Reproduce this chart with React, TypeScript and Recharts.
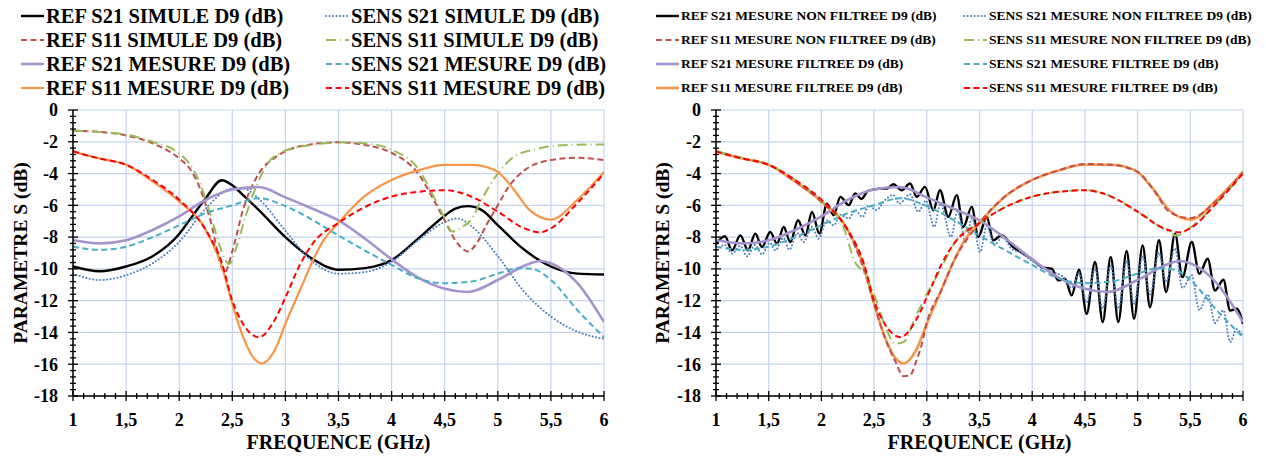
import React from "react";
import { LineChart, Line, XAxis, YAxis, CartesianGrid } from "recharts";

type Pt = [number, number];

const FONT = "'Liberation Serif', 'Times New Roman', serif";

// axes
const X_MAJOR = [1, 1.5, 2, 2.5, 3, 3.5, 4, 4.5, 5, 5.5, 6];
const Y_MAJOR = [0, -2, -4, -6, -8, -10, -12, -14, -16, -18];
const X_TICKS = Array.from({ length: 51 }, (_, i) => (10 + i) / 10);
const Y_TICKS = Array.from({ length: 46 }, (_, i) => -(i * 4) / 10);

// ---- left chart : simulated vs measured (GHz, dB)
const REF_S21_SIM: Pt[] = [[1, -9.85], [1.25, -10.15], [1.5, -9.85], [1.75, -9.2], [2, -7.8], [2.1, -6.9], [2.25, -5.55], [2.4, -4.42], [2.5, -4.73], [2.6, -5.35], [2.75, -6.3], [3, -8.0], [3.25, -9.35], [3.5, -10.05], [3.75, -9.95], [4, -9.45], [4.25, -8.1], [4.5, -6.65], [4.6, -6.2], [4.72, -6.05], [4.85, -6.3], [5, -7.25], [5.25, -8.8], [5.5, -9.85], [5.75, -10.3], [6, -10.35]];
const REF_S11_SIM: Pt[] = [[1, -1.3], [1.25, -1.38], [1.5, -1.6], [1.75, -2.1], [2, -3.05], [2.1, -3.7], [2.2, -5.0], [2.3, -7.1], [2.4, -9.9], [2.43, -10.2], [2.5, -8.9], [2.6, -6.3], [2.75, -4.0], [2.9, -3.0], [3, -2.6], [3.25, -2.15], [3.5, -2.03], [3.75, -2.2], [4, -2.7], [4.25, -4.0], [4.4, -5.7], [4.5, -6.95], [4.6, -8.2], [4.72, -8.9], [4.8, -8.4], [4.9, -7.15], [5, -6.0], [5.1, -4.85], [5.25, -3.8], [5.5, -3.15], [5.75, -3.0], [6, -3.15]];
const SENS_S21_SIM: Pt[] = [[1, -10.3], [1.25, -10.7], [1.5, -10.4], [1.75, -9.65], [2, -8.3], [2.25, -6.2], [2.5, -4.95], [2.6, -4.95], [2.75, -5.6], [3, -7.6], [3.25, -9.5], [3.5, -10.3], [3.75, -10.2], [4, -9.55], [4.25, -8.2], [4.5, -7.05], [4.62, -6.83], [4.75, -7.3], [5, -9.2], [5.25, -11.45], [5.5, -13.0], [5.75, -13.95], [6, -14.4]];
const SENS_S11_SIM: Pt[] = [[1, -1.3], [1.25, -1.38], [1.5, -1.55], [1.75, -2.0], [2, -2.73], [2.1, -3.4], [2.2, -4.7], [2.3, -6.7], [2.4, -8.9], [2.47, -9.7], [2.55, -8.4], [2.62, -6.8], [2.7, -5.25], [2.83, -3.4], [3, -2.55], [3.25, -2.2], [3.5, -2.03], [3.75, -2.1], [4, -2.5], [4.25, -3.7], [4.4, -5.5], [4.5, -6.8], [4.57, -7.65], [4.68, -7.3], [4.75, -6.9], [4.85, -5.6], [5, -4.0], [5.15, -2.95], [5.35, -2.48], [5.65, -2.2], [6, -2.17]];
const REF_S21_MES: Pt[] = [[1, -8.2], [1.05, -8.25], [1.25, -8.4], [1.5, -8.2], [1.75, -7.55], [2, -6.7], [2.25, -5.65], [2.5, -5.0], [2.75, -4.85], [3, -5.5], [3.25, -6.2], [3.5, -6.95], [3.75, -8.1], [4, -9.4], [4.25, -10.55], [4.5, -11.25], [4.72, -11.45], [5, -10.7], [5.25, -9.8], [5.4, -9.5], [5.5, -9.65], [5.75, -10.9], [6, -13.35]];
const REF_S11_MES: Pt[] = [[1, -2.6], [1.1, -2.8], [1.25, -3.05], [1.5, -3.45], [1.75, -4.5], [2, -5.75], [2.25, -7.55], [2.4, -9.8], [2.5, -12.2], [2.6, -14.25], [2.7, -15.6], [2.78, -15.95], [2.9, -15.1], [3, -13.45], [3.14, -11.3], [3.25, -9.6], [3.35, -8.3], [3.5, -7.1], [3.75, -5.4], [4, -4.4], [4.25, -3.8], [4.5, -3.45], [4.75, -3.45], [4.9, -3.6], [5, -3.9], [5.15, -5.0], [5.3, -6.3], [5.5, -6.9], [5.75, -5.65], [6, -3.9]];
const SENS_S21_MES: Pt[] = [[1, -8.6], [1.25, -8.8], [1.5, -8.6], [1.75, -8.0], [2, -7.25], [2.25, -6.5], [2.5, -6.0], [2.75, -5.55], [3, -6.05], [3.25, -6.9], [3.5, -7.9], [3.75, -8.85], [4, -9.75], [4.25, -10.6], [4.5, -10.9], [4.75, -10.8], [5, -10.3], [5.2, -9.95], [5.35, -10.05], [5.5, -10.7], [5.75, -12.6], [6, -14.3]];
const SENS_S11_MES: Pt[] = [[1, -2.6], [1.1, -2.8], [1.25, -3.05], [1.5, -3.45], [1.75, -4.4], [2, -5.65], [2.25, -7.55], [2.4, -9.6], [2.5, -12.0], [2.6, -13.45], [2.75, -14.3], [2.9, -13.2], [3, -11.8], [3.14, -9.7], [3.27, -8.3], [3.5, -7.1], [3.75, -6.1], [4, -5.45], [4.25, -5.15], [4.5, -5.05], [4.75, -5.45], [5, -6.4], [5.25, -7.45], [5.4, -7.7], [5.5, -7.45], [5.75, -5.85], [6, -4.0]];

// ---- right chart : raw (non filtered) measurements
const REF_S21_RAW: Pt[] = [[1, -8.45], [1.085, -7.95], [1.152, -8.83], [1.231, -7.89], [1.304, -8.83], [1.373, -7.78], [1.436, -8.62], [1.515, -7.68], [1.579, -8.41], [1.642, -7.36], [1.705, -8.31], [1.778, -6.94], [1.848, -7.89], [1.911, -6.41], [1.98, -7.78], [2.053, -5.89], [2.116, -6.62], [2.18, -5.47], [2.26, -5.99], [2.32, -5.25], [2.38, -5.6], [2.44, -5.1], [2.5, -5.0], [2.56, -4.95], [2.62, -4.95], [2.682, -4.67], [2.762, -5.05], [2.841, -4.63], [2.904, -5.47], [2.983, -4.84], [3.062, -6.31], [3.125, -5.05], [3.204, -6.73], [3.284, -5.36], [3.347, -7.36], [3.426, -6.1], [3.489, -7.99], [3.568, -6.73], [3.631, -8.2], [3.71, -7.88], [3.82, -8.62], [3.916, -9.04], [4.01, -9.46], [4.105, -9.93], [4.185, -9.99], [4.248, -10.72], [4.311, -10.62], [4.375, -11.67], [4.444, -10.05], [4.517, -12.83], [4.596, -9.57], [4.669, -13.35], [4.745, -9.25], [4.817, -13.35], [4.896, -8.87], [4.966, -13.14], [5.048, -8.52], [5.118, -12.41], [5.203, -8.2], [5.27, -11.46], [5.355, -7.78], [5.425, -10.52], [5.514, -8.31], [5.586, -10.31], [5.665, -9.36], [5.734, -11.36], [5.814, -10.68], [5.878, -12.62], [5.94, -12.51], [6, -13.46]];
const REF_S11_RAW: Pt[] = [[1, -2.6], [1.25, -3.05], [1.5, -3.45], [1.75, -4.5], [2, -5.8], [2.25, -7.6], [2.4, -10.0], [2.5, -12.2], [2.6, -14.3], [2.7, -15.8], [2.78, -16.75], [2.84, -16.7], [2.9, -15.8], [2.95, -14.8], [3, -13.4], [3.14, -11.3], [3.25, -9.6], [3.5, -7.1], [3.75, -5.4], [4, -4.4], [4.25, -3.8], [4.5, -3.4], [4.75, -3.45], [5, -3.9], [5.15, -5.0], [5.3, -6.4], [5.5, -6.8], [5.75, -5.7], [6, -3.9]];
const SENS_S21_RAW: Pt[] = [[1, -8.75], [1.085, -8.5], [1.152, -9.04], [1.23, -8.55], [1.294, -9.21], [1.37, -8.5], [1.436, -9.08], [1.51, -8.35], [1.563, -8.83], [1.64, -8.05], [1.696, -8.79], [1.77, -7.75], [1.832, -8.31], [1.91, -7.35], [1.974, -8.1], [2.05, -6.95], [2.116, -7.26], [2.18, -6.6], [2.26, -6.83], [2.32, -6.3], [2.39, -6.73], [2.45, -6.0], [2.52, -6.3], [2.6, -5.7], [2.68, -5.35], [2.74, -5.89], [2.84, -5.3], [2.92, -6.41], [2.99, -5.7], [3.07, -7.36], [3.13, -5.9], [3.23, -7.99], [3.29, -6.4], [3.37, -8.3], [3.43, -6.8], [3.505, -8.94], [3.57, -7.3], [3.64, -8.5], [3.72, -8.0], [3.8, -8.7], [3.9, -9.0], [4.0, -9.5], [4.1, -9.9], [4.2, -10.2], [4.31, -10.6], [4.375, -11.2], [4.444, -10.3], [4.517, -12.1], [4.596, -10.0], [4.669, -12.5], [4.745, -9.8], [4.817, -12.5], [4.896, -9.5], [4.966, -12.2], [5.048, -9.2], [5.118, -11.6], [5.203, -9.0], [5.27, -10.8], [5.355, -8.7], [5.425, -11.2], [5.514, -10.4], [5.586, -12.6], [5.665, -11.6], [5.734, -13.4], [5.814, -12.6], [5.878, -14.6], [5.94, -13.8], [6, -14.3]];
const SENS_S11_RAW: Pt[] = [[1, -2.6], [1.25, -3.0], [1.5, -3.45], [1.75, -4.4], [2, -5.7], [2.2, -7.2], [2.32, -9.6], [2.4, -10.2], [2.5, -11.6], [2.6, -13.5], [2.7, -14.7], [2.78, -14.6], [2.9, -12.9], [3, -11.6], [3.14, -9.9], [3.27, -8.3], [3.5, -7.1], [3.75, -6.1], [4, -5.45], [4.25, -5.15], [4.5, -5.05], [4.75, -5.45], [5, -6.4], [5.25, -7.5], [5.37, -7.9], [5.5, -7.4], [5.75, -5.85], [6, -4.0]];

type Series = {
  name: string;
  pts: Pt[];
  color: string;
  width: number;
  dash?: string;
  cap?: "round" | "butt";
};

const DOTTED = "0.1 3.4";
const DASHED = "6 3.5";
const DASH_DOT = "10 4 1 4";

const LEFT_SERIES: Series[] = [
  { name: "REF S21 SIMULE D9 (dB)", pts: REF_S21_SIM, color: "#000000", width: 2.4 },
  { name: "SENS S21 SIMULE D9 (dB)", pts: SENS_S21_SIM, color: "#4f81bd", width: 2, dash: DOTTED, cap: "round" },
  { name: "REF S11 SIMULE D9 (dB)", pts: REF_S11_SIM, color: "#c0504d", width: 2, dash: DASHED },
  { name: "SENS S11 SIMULE D9 (dB)", pts: SENS_S11_SIM, color: "#9bbb59", width: 2, dash: DASH_DOT },
  { name: "REF S21 MESURE D9 (dB)", pts: REF_S21_MES, color: "#a493cc", width: 2.6 },
  { name: "SENS S21 MESURE D9 (dB)", pts: SENS_S21_MES, color: "#4bacc6", width: 2, dash: DASHED },
  { name: "REF S11 MESURE D9 (dB)", pts: REF_S11_MES, color: "#f79646", width: 2.2 },
  { name: "SENS S11 MESURE D9 (dB)", pts: SENS_S11_MES, color: "#ff0000", width: 2, dash: DASHED },
];

const RIGHT_SERIES: Series[] = [
  { name: "REF S21 MESURE NON FILTREE D9 (dB)", pts: REF_S21_RAW, color: "#000000", width: 2.4 },
  { name: "SENS S21 MESURE NON FILTREE D9 (dB)", pts: SENS_S21_RAW, color: "#4f81bd", width: 2, dash: DOTTED, cap: "round" },
  { name: "REF S21 MESURE FILTREE D9 (dB)", pts: REF_S21_MES, color: "#a493cc", width: 2.6 },
  { name: "SENS S21 MESURE FILTREE D9 (dB)", pts: SENS_S21_MES, color: "#4bacc6", width: 2, dash: DASHED },
  { name: "REF S11 MESURE FILTREE D9 (dB)", pts: REF_S11_MES, color: "#f79646", width: 2.6 },
  { name: "REF S11 MESURE NON FILTREE D9 (dB)", pts: REF_S11_RAW, color: "#c0504d", width: 2, dash: DASHED },
  { name: "SENS S11 MESURE NON FILTREE D9 (dB)", pts: SENS_S11_RAW, color: "#9bbb59", width: 2, dash: DASH_DOT },
  { name: "SENS S11 MESURE FILTREE D9 (dB)", pts: SENS_S11_MES, color: "#ff0000", width: 2, dash: DASHED },
];

// legend order: REF column then SENS column
const LEFT_LEGEND = [
  [0, 2, 4, 6],
  [1, 3, 5, 7],
];
const RIGHT_LEGEND = [
  [0, 5, 2, 4],
  [1, 6, 3, 7],
];

const rows = (pts: Pt[]) => pts.map(([f, db]) => ({ f, db }));
const isMajor = (v: number, step: number) => Math.abs(v / step - Math.round(v / step)) < 1e-6;

function XTick(props: any) {
  const { x, y, payload } = props;
  const v = payload.value as number;
  const major = isMajor(v, 0.5);
  const h = major ? 5 : 3;
  return (
    <g>
      <line x1={x} x2={x} y1={y - h} y2={y + h} stroke="#000" strokeWidth={1.3} />
      {major && (
        <text x={x} y={y + 30} textAnchor="middle" fontFamily={FONT} fontWeight="bold" fontSize={18} fill="#000">
          {String(v).replace(".", ",")}
        </text>
      )}
    </g>
  );
}

function YTick(props: any) {
  const { x, y, payload } = props;
  const v = payload.value as number;
  const major = isMajor(v, 2);
  const w = major ? 5 : 3;
  return (
    <g>
      <line x1={x - w} x2={x + w} y1={y} y2={y} stroke="#000" strokeWidth={1.3} />
      {major && (
        <text x={x - 15} y={y} dy="0.35em" textAnchor="end" fontFamily={FONT} fontWeight="bold" fontSize={18} fill="#000">
          {String(Math.round(v))}
        </text>
      )}
    </g>
  );
}

function Swatch({ s }: { s: Series }) {
  return (
    <svg width={25} height={10} style={{ flex: "none" }}>
      <line x1={1} x2={24} y1={5} y2={5} stroke={s.color} strokeWidth={s.width} strokeDasharray={s.dash} strokeLinecap={s.cap} />
    </svg>
  );
}

function Legend({ series, layout, cols, fontSize }: { series: Series[]; layout: number[][]; cols: number[]; fontSize: number }) {
  const rowY = [16, 40, 64, 88];
  return (
    <>
      {layout.map((col, ci) =>
        col.map((idx, ri) => (
          <div
            key={`${ci}-${ri}`}
            style={{
              position: "absolute",
              left: cols[ci],
              top: rowY[ri] - 12,
              height: 24,
              display: "flex",
              alignItems: "center",
              whiteSpace: "nowrap",
              fontFamily: FONT,
              fontWeight: 700,
              fontSize,
              color: "#000",
            }}
          >
            <Swatch s={series[idx]} />
            <span style={{ marginLeft: 1 }}>{series[idx].name}</span>
          </div>
        ))
      )}
    </>
  );
}

function SChart({ left, width, plotLeft, plotRight, series, yTitleX }: { left: number; width: number; plotLeft: number; plotRight: number; series: Series[]; yTitleX: number }) {
  return (
    <div style={{ position: "absolute", left, top: 0 }}>
      <LineChart width={width} height={459} margin={{ top: 110, right: width - plotRight, bottom: 0, left: 0 }}>
        <CartesianGrid stroke="#c6d4f0" strokeWidth={1.2} verticalValues={X_MAJOR} horizontalValues={Y_MAJOR} />
        <XAxis
          dataKey="f"
          type="number"
          domain={[1, 6]}
          ticks={X_TICKS}
          interval={0}
          allowDataOverflow
          height={63}
          tickSize={0}
          tickMargin={0}
          tickLine={false}
          tick={<XTick />}
          axisLine={{ stroke: "#000", strokeWidth: 1.5 }}
          label={{ value: "FREQUENCE (GHz)", position: "insideBottom", offset: 10, fontFamily: FONT, fontWeight: "bold", fontSize: 20, fill: "#000" }}
        />
        <XAxis xAxisId="top" orientation="top" type="number" domain={[1, 6]} height={0} tick={false} tickLine={false} axisLine={{ stroke: "#000", strokeWidth: 1.5 }} />
        <YAxis
          type="number"
          domain={[-18, 0]}
          ticks={Y_TICKS}
          interval={0}
          allowDataOverflow
          width={plotLeft}
          tickSize={0}
          tickMargin={0}
          tickLine={false}
          tick={<YTick />}
          axisLine={{ stroke: "#000", strokeWidth: 1.5 }}
          label={{ value: "PARAMETRE S (dB)", angle: -90, position: "insideLeft", offset: yTitleX, textAnchor: "middle", fontFamily: FONT, fontWeight: "bold", fontSize: 19.5, fill: "#000" }}
        />
        <YAxis yAxisId="right" orientation="right" type="number" domain={[-18, 0]} width={0} tick={false} tickLine={false} axisLine={{ stroke: "#000", strokeWidth: 1.5 }} />
        {series.map((s) => (
          <Line
            key={s.name}
            name={s.name}
            data={rows(s.pts)}
            dataKey="db"
            type="monotone"
            stroke={s.color}
            strokeWidth={s.width}
            strokeDasharray={s.dash}
            strokeLinecap={s.cap}
            dot={false}
            activeDot={false}
            isAnimationActive={false}
          />
        ))}
      </LineChart>
    </div>
  );
}

export default function App() {
  return (
    <div style={{ position: "absolute", left: 0, top: 0, width: 1266, height: 459, background: "#fff", overflow: "hidden" }}>
      <Legend series={LEFT_SERIES} layout={LEFT_LEGEND} cols={[20, 325]} fontSize={20.5} />
      <Legend series={RIGHT_SERIES} layout={RIGHT_LEGEND} cols={[655, 963]} fontSize={13.5} />
      <SChart left={0} width={620} plotLeft={73} plotRight={604} series={LEFT_SERIES} yTitleX={20} />
      <SChart left={640} width={626} plotLeft={76} plotRight={603} series={RIGHT_SERIES} yTitleX={22} />
    </div>
  );
}
